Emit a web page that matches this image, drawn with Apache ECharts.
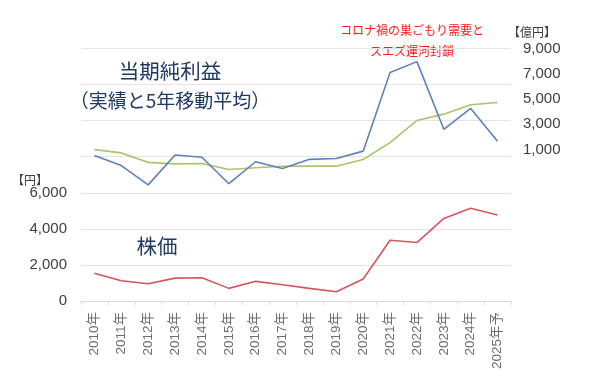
<!DOCTYPE html>
<html>
<head>
<meta charset="utf-8">
<script src="https://cdn.jsdelivr.net/npm/echarts@6/dist/echarts.min.js"></script>
<style>
html,body{margin:0;padding:0;background:#fff;}
#chart{width:600px;height:390px;}
</style>
</head>
<body>
<div id="chart"></div>
<script>
var years = ['2010年','2011年','2012年','2013年','2014年','2015年','2016年','2017年','2018年','2019年','2020年','2021年','2022年','2023年','2024年','2025年予'];
var netProfit = [520, -270, -1800, 570, 390, -1710, 30, -500, 220, 290, 870, 7100, 7960, 2600, 4250, 1660];
var movingAvg = [990, 730, -20, -140, -110, -590, -450, -330, -320, -320, 210, 1540, 3300, 3800, 4550, 4720];
var stockPrice = [1540, 1120, 960, 1270, 1290, 700, 1090, 900, 700, 510, 1220, 3370, 3240, 4580, 5140, 4770];
var leftTickLabels = [0, 2000, 4000, 6000];
var rightTickLabels = [1000, 3000, 5000, 7000, 9000];

var FONT = '"Liberation Sans", "Noto Sans CJK JP", sans-serif';
var JFONT = '"Noto Sans CJK JP", sans-serif';
function fmt(v){ return v.toLocaleString('en-US'); }

var chart = echarts.init(document.getElementById('chart'), null, {renderer:'canvas'});
chart.setOption({
  animation: false,
  backgroundColor: '#ffffff',
  grid: { left: 81, right: 89, top: 48.5, bottom: 89, containLabel: false },
  xAxis: {
    type: 'category',
    data: years,
    boundaryGap: true,
    axisLine: { show: true, lineStyle: { color: '#d9d9d9', width: 1 } },
    axisTick: { show: true, length: 4, lineStyle: { color: '#d9d9d9' } },
    axisLabel: { rotate: 90, margin: 11, interval: 0, color: '#6e6e6e', fontSize: 13.5, fontFamily: FONT }
  },
  yAxis: [
    {
      type: 'value', min: 0, max: 14000, interval: 2000, position: 'left',
      axisLine: { show: false }, axisTick: { show: false },
      splitLine: { show: true, lineStyle: { color: '#e4e4e4', width: 1 } },
      axisLabel: {
        margin: 14, color: '#404040', fontSize: 15, fontFamily: FONT,
        formatter: function(v){ return leftTickLabels.indexOf(v) >= 0 ? fmt(v) : ''; }
      }
    },
    {
      type: 'value', min: -11000, max: 9000, interval: 1000, position: 'right',
      axisLine: { show: false }, axisTick: { show: false }, splitLine: { show: false },
      axisLabel: {
        margin: 12, color: '#404040', fontSize: 15, fontFamily: FONT, interval: 0,
        formatter: function(v){ return rightTickLabels.indexOf(v) >= 0 ? fmt(v) : ''; }
      }
    }
  ],
  series: [
    { name: '5年移動平均', type: 'line', yAxisIndex: 1, data: movingAvg, symbol: 'none',
      lineStyle: { color: '#aac46c', width: 1.6 } },
    { name: '当期純利益', type: 'line', yAxisIndex: 1, data: netProfit, symbol: 'none',
      lineStyle: { color: '#5c82bd', width: 1.6 } },
    { name: '株価', type: 'line', yAxisIndex: 0, data: stockPrice, symbol: 'none',
      lineStyle: { color: '#d5555e', width: 1.6 } }
  ],
  graphic: [
    { type: 'text', x: 170, y: 71, style: { text: '当期純利益', font: '20.5px ' + JFONT, fill: '#1f3864', align: 'center', verticalAlign: 'middle' } },
    { type: 'text', x: 170, y: 101, style: { text: '（実績と5年移動平均）', font: '19px ' + JFONT, fill: '#1f3864', align: 'center', verticalAlign: 'middle' } },
    { type: 'text', x: 157, y: 246, style: { text: '株価', font: '20.5px ' + JFONT, fill: '#1f3864', align: 'center', verticalAlign: 'middle' } },
    { type: 'text', x: 412, y: 30, style: { text: 'コロナ禍の巣ごもり需要と', font: '12px ' + JFONT, fill: '#ff1a1a', align: 'center', verticalAlign: 'middle' } },
    { type: 'text', x: 412, y: 51, style: { text: 'スエズ運河封鎖', font: '12px ' + JFONT, fill: '#ff1a1a', align: 'center', verticalAlign: 'middle' } },
    { type: 'text', x: 532, y: 32, style: { text: '【億円】', font: '12px ' + JFONT, fill: '#404040', align: 'center', verticalAlign: 'middle' } },
    { type: 'text', x: 30, y: 180, style: { text: '【円】', font: '12px ' + JFONT, fill: '#404040', align: 'center', verticalAlign: 'middle' } }
  ]
});
</script>
</body>
</html>
